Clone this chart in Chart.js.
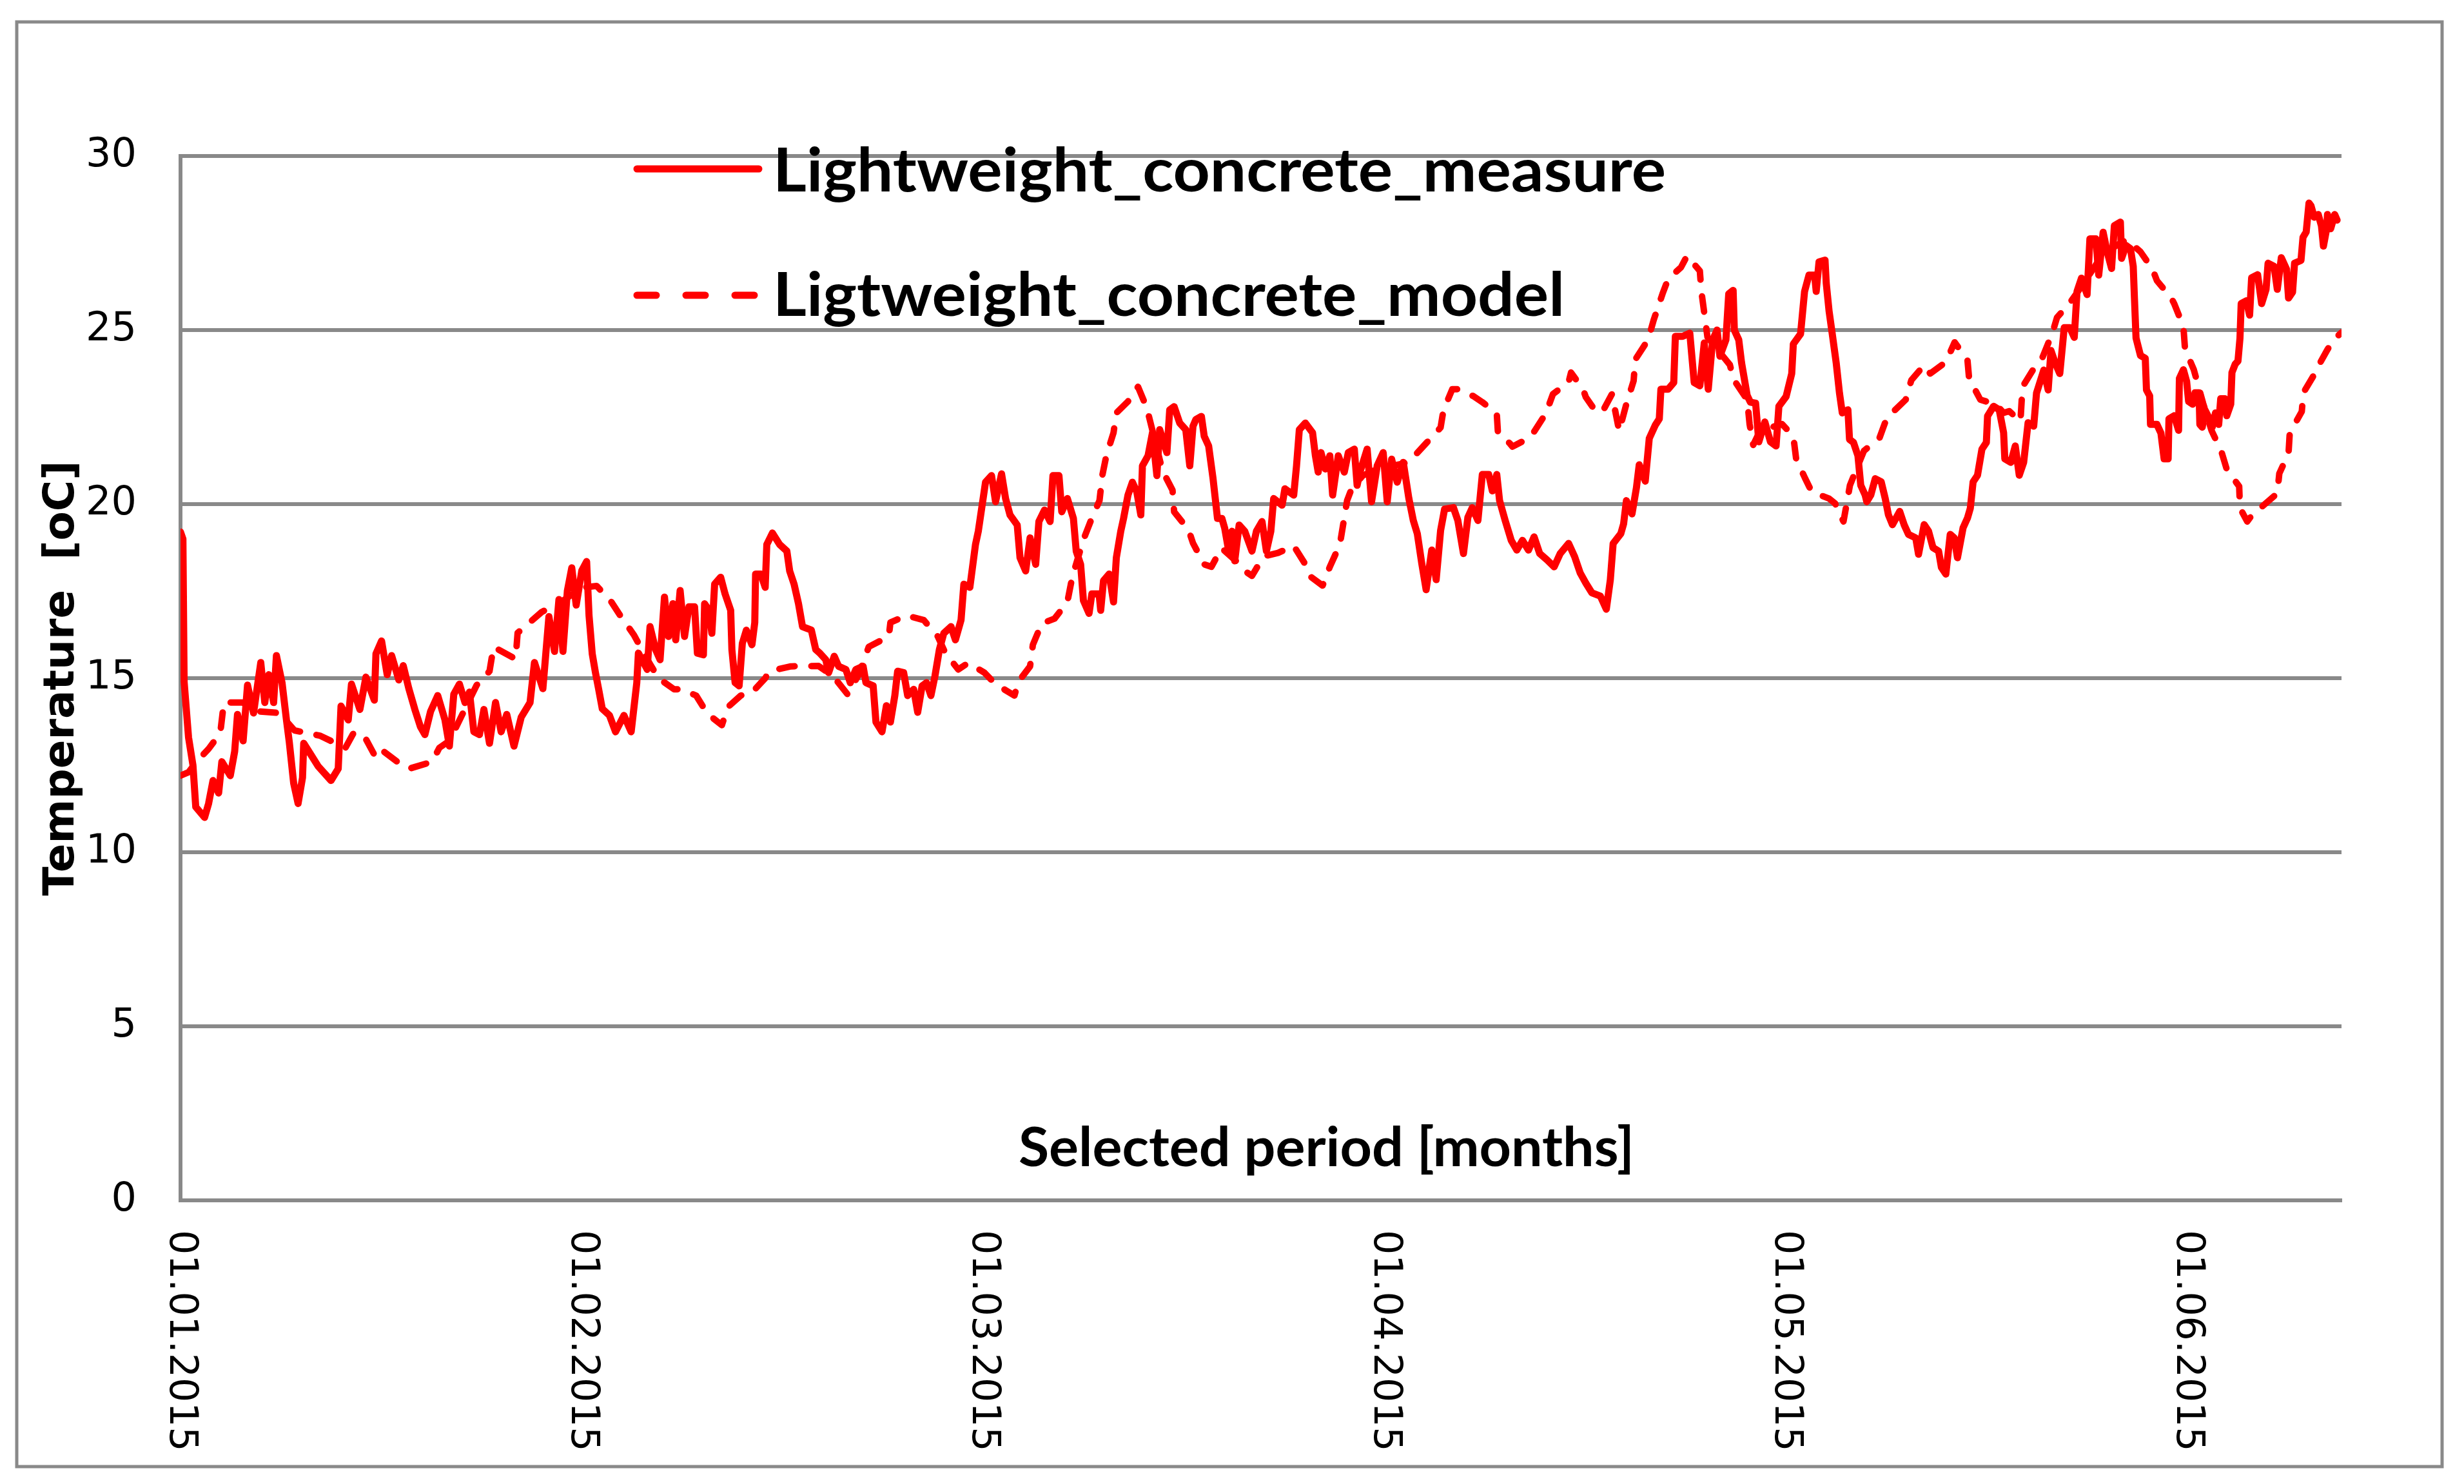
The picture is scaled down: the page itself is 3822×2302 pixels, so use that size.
<!DOCTYPE html>
<html>
<head>
<meta charset="utf-8">
<title>Lightweight concrete temperature</title>
<script src="https://cdn.jsdelivr.net/npm/chart.js@4.4.0/dist/chart.umd.min.js"></script>
<style>
  html, body { margin: 0; padding: 0; background: #fff; }
  canvas { display: block; }
</style>
</head>
<body>
<canvas id="tempChart" width="3822" height="2302" style="width:3822px;height:2302px"></canvas>
<script>
// --- Axis labels (x is measured in months from 01.01.2015) ---
const monthTicks = [0, 1, 2, 3, 4, 5];
const monthLabels = ["01.01.2015", "01.02.2015", "01.03.2015", "01.04.2015", "01.05.2015", "01.06.2015"];
const periodEnd = 5.385;

// --- Lightweight_concrete_measure ---
const measX = [
  0.000, 0.006, 0.009, 0.020, 0.031, 0.038, 0.060, 0.070, 0.081, 0.095, 0.103, 0.124, 0.135, 0.142, 0.156, 0.167,
  0.182, 0.200, 0.210, 0.220, 0.232, 0.239, 0.253, 0.264, 0.271, 0.282, 0.293, 0.304, 0.307, 0.325, 0.343, 0.375,
  0.393, 0.400, 0.418, 0.426, 0.447, 0.462, 0.483, 0.487, 0.501, 0.515, 0.526, 0.544, 0.555, 0.569, 0.584, 0.598,
  0.609, 0.623, 0.641, 0.659, 0.670, 0.681, 0.695, 0.709, 0.720, 0.731, 0.745, 0.756, 0.770, 0.785, 0.799, 0.813,
  0.831, 0.849, 0.871, 0.882, 0.903, 0.918, 0.932, 0.943, 0.953, 0.964, 0.975, 0.986, 1.000, 1.012, 1.018, 1.026,
  1.034, 1.042, 1.051, 1.069, 1.084, 1.105, 1.123, 1.137, 1.141, 1.163, 1.170, 1.184, 1.195, 1.206, 1.216, 1.227,
  1.234, 1.245, 1.256, 1.267, 1.281, 1.288, 1.303, 1.306, 1.317, 1.324, 1.331, 1.346, 1.357, 1.371, 1.374, 1.382,
  1.392, 1.400, 1.410, 1.424, 1.431, 1.433, 1.446, 1.457, 1.461, 1.475, 1.493, 1.511, 1.518, 1.529, 1.540, 1.550,
  1.572, 1.583, 1.593, 1.608, 1.615, 1.629, 1.640, 1.658, 1.669, 1.683, 1.701, 1.708, 1.726, 1.733, 1.748, 1.759,
  1.769, 1.780, 1.787, 1.802, 1.812, 1.827, 1.837, 1.848, 1.859, 1.870, 1.880, 1.891, 1.902, 1.920, 1.931, 1.945,
  1.952, 1.967, 1.981, 1.988, 2.006, 2.021, 2.031, 2.046, 2.056, 2.067, 2.085, 2.092, 2.106, 2.117, 2.131, 2.139,
  2.153, 2.167, 2.174, 2.189, 2.196, 2.210, 2.225, 2.232, 2.243, 2.250, 2.264, 2.271, 2.289, 2.293, 2.300, 2.314,
  2.325, 2.332, 2.343, 2.350, 2.361, 2.372, 2.383, 2.393, 2.397, 2.411, 2.422, 2.433, 2.440, 2.458, 2.465, 2.476,
  2.490, 2.505, 2.515, 2.523, 2.530, 2.544, 2.551, 2.562, 2.573, 2.584, 2.595, 2.602, 2.612, 2.620, 2.627, 2.638,
  2.652, 2.670, 2.681, 2.695, 2.706, 2.717, 2.724, 2.745, 2.752, 2.774, 2.781, 2.788, 2.803, 2.821, 2.828, 2.835,
  2.842, 2.853, 2.864, 2.871, 2.885, 2.900, 2.910, 2.925, 2.932, 2.939, 2.957, 2.968, 2.982, 2.997, 3.007, 3.018,
  3.032, 3.047, 3.061, 3.072, 3.082, 3.093, 3.104, 3.118, 3.129, 3.140, 3.150, 3.172, 3.183, 3.197, 3.208, 3.219,
  3.233, 3.244, 3.260, 3.269, 3.280, 3.287, 3.301, 3.316, 3.330, 3.344, 3.359, 3.373, 3.387, 3.405, 3.423, 3.438,
  3.459, 3.474, 3.488, 3.502, 3.517, 3.538, 3.553, 3.563, 3.570, 3.589, 3.596, 3.603, 3.617, 3.628, 3.635, 3.650,
  3.660, 3.675, 3.685, 3.689, 3.707, 3.721, 3.725, 3.743, 3.761, 3.772, 3.786, 3.797, 3.807, 3.818, 3.829, 3.836,
  3.851, 3.858, 3.869, 3.872, 3.883, 3.890, 3.904, 3.912, 3.925, 3.933, 3.948, 3.962, 3.976, 3.983, 4.001, 4.015,
  4.019, 4.037, 4.047, 4.058, 4.072, 4.076, 4.083, 4.098, 4.101, 4.108, 4.116, 4.126, 4.134, 4.141, 4.155, 4.159,
  4.169, 4.180, 4.187, 4.198, 4.202, 4.212, 4.223, 4.238, 4.248, 4.256, 4.266, 4.284, 4.295, 4.306, 4.324, 4.331,
  4.345, 4.356, 4.367, 4.381, 4.388, 4.399, 4.410, 4.420, 4.428, 4.442, 4.453, 4.460, 4.467, 4.478, 4.489, 4.500,
  4.503, 4.518, 4.532, 4.543, 4.546, 4.561, 4.572, 4.582, 4.593, 4.604, 4.618, 4.625, 4.643, 4.654, 4.661, 4.672,
  4.683, 4.694, 4.708, 4.719, 4.726, 4.737, 4.751, 4.758, 4.773, 4.780, 4.791, 4.801, 4.812, 4.819, 4.834, 4.837,
  4.848, 4.859, 4.866, 4.869, 4.873, 4.884, 4.896, 4.899, 4.907, 4.909, 4.925, 4.935, 4.943, 4.953, 4.955, 4.968,
  4.979, 4.981, 4.991, 4.999, 5.004, 5.014, 5.020, 5.030, 5.032, 5.038, 5.045, 5.056, 5.063, 5.071, 5.079, 5.084,
  5.094, 5.099, 5.109, 5.112, 5.120, 5.127, 5.132, 5.135, 5.148, 5.156, 5.161, 5.176, 5.186, 5.197, 5.202, 5.217,
  5.225, 5.235, 5.248, 5.253, 5.263, 5.268, 5.284, 5.289, 5.297, 5.304, 5.309, 5.317, 5.327, 5.335, 5.340, 5.348,
  5.350, 5.358, 5.368, 5.374
];
const measY = [
  19.2, 19.0, 14.9, 13.3, 12.5, 11.3, 11.0, 11.4, 12.06, 11.7, 12.6, 12.2, 12.9, 13.96, 13.2, 14.8,
  14.0, 15.45, 14.3, 15.1, 14.3, 15.65, 14.87, 13.8, 13.17, 11.98, 11.4, 12.14, 13.13, 12.8, 12.47, 12.06,
  12.4, 14.2, 13.8, 14.83, 14.1, 15.03, 14.37, 15.7, 16.07, 15.1, 15.65, 14.95, 15.36, 14.7, 14.1, 13.6,
  13.38, 14.04, 14.5, 13.8, 13.05, 14.54, 14.83, 14.3, 14.6, 13.46, 13.38, 14.1, 13.13, 14.3, 13.46, 13.96,
  13.05, 13.88, 14.3, 15.45, 14.7, 16.77, 15.77, 17.26, 15.77, 17.51, 18.17, 17.1, 18.09, 18.35, 16.8, 15.7,
  15.16, 14.68, 14.12, 13.93, 13.46, 13.93, 13.46, 14.87, 15.72, 15.25, 16.48, 15.82, 15.53, 17.33, 16.2, 17.14,
  16.1, 17.52, 16.2, 17.05, 17.05, 15.72, 15.67, 17.14, 16.95, 16.29, 17.7, 17.9, 17.42, 16.95, 15.82, 14.87,
  14.78, 16.0, 16.38, 15.96, 16.6, 17.99, 17.99, 17.61, 18.84, 19.17, 18.84, 18.65, 18.08, 17.7, 17.14, 16.48,
  16.38, 15.82, 15.72, 15.53, 15.16, 15.63, 15.34, 15.25, 14.87, 15.25, 15.34, 14.87, 14.78, 13.74, 13.46, 14.21,
  13.74, 14.5, 15.2, 15.16, 14.5, 14.68, 14.02, 14.78, 14.87, 14.5, 15.06, 15.82, 16.29, 16.48, 16.1, 16.67,
  17.7, 17.61, 18.84, 19.22, 20.63, 20.82, 20.07, 20.87, 20.16, 19.69, 19.4, 18.46, 18.08, 19.03, 18.27, 19.5,
  19.83, 19.5, 20.82, 20.82, 19.78, 20.16, 19.59, 18.65, 18.27, 17.23, 16.86, 17.42, 17.42, 16.95, 17.8, 17.99,
  17.19, 18.46, 19.22, 19.59, 20.26, 20.63, 20.35, 19.69, 21.1, 21.39, 22.05, 20.82, 22.14, 21.48, 22.71, 22.8,
  22.33, 22.14, 21.1, 22.24, 22.43, 22.52, 21.95, 21.67, 20.73, 19.59, 19.59, 19.31, 18.65, 19.22, 18.37, 19.4,
  19.22, 18.65, 19.22, 19.5, 18.65, 19.22, 20.16, 19.97, 20.44, 20.26, 21.1, 22.14, 22.33, 22.05, 21.39, 20.92,
  21.48, 21.01, 21.39, 20.26, 21.39, 20.92, 21.48, 21.58, 20.54, 20.92, 21.58, 20.07, 21.1, 21.48, 20.07, 21.29,
  20.63, 21.2, 20.16, 19.53, 19.15, 18.3, 17.54, 18.68, 17.83, 19.24, 19.86, 19.9, 19.53, 18.58, 19.62, 19.9,
  19.53, 20.85, 20.85, 20.38, 20.85, 20.1, 19.53, 18.96, 18.68, 18.96, 18.68, 19.06, 18.58, 18.4, 18.2, 18.58,
  18.87, 18.49, 18.02, 17.73, 17.45, 17.36, 16.98, 17.83, 18.87, 19.15, 19.43, 20.1, 19.72, 20.47, 21.13, 20.66,
  21.89, 22.27, 22.45, 23.3, 23.3, 23.49, 24.82, 24.82, 24.91, 23.49, 23.4, 24.63, 23.3, 24.72, 25.0, 24.25,
  24.72, 26.04, 26.14, 25.0, 24.72, 24.06, 23.12, 22.93, 22.9, 21.79, 22.36, 21.79, 21.67, 22.81, 23.09, 23.75,
  24.6, 24.89, 26.11, 26.58, 26.58, 26.11, 26.96, 27.01, 26.35, 25.55, 24.89, 24.04, 23.19, 22.62, 22.71, 21.86,
  21.77, 21.39, 20.54, 20.26, 20.07, 20.26, 20.73, 20.64, 20.16, 19.69, 19.41, 19.79, 19.41, 19.13, 19.03, 18.56,
  19.41, 19.22, 18.75, 18.65, 18.18, 17.99, 19.13, 19.03, 18.46, 19.32, 19.6, 19.88, 20.64, 20.83, 21.58, 21.77,
  22.53, 22.81, 22.71, 22.05, 21.3, 21.2, 21.67, 20.83, 21.2, 22.34, 22.24, 23.19, 23.85, 23.28, 24.41, 24.04,
  23.75, 25.07, 25.07, 24.79, 26.11, 26.49, 26.02, 27.62, 27.62, 26.58, 27.81, 27.25, 26.77, 28.0, 28.1, 27.06,
  27.43, 27.34, 26.83, 25.92, 24.77, 24.27, 24.19, 23.28, 23.11, 22.29, 22.29, 22.04, 21.3, 21.3, 22.45, 22.54,
  22.12, 23.61, 23.86, 23.53, 22.95, 22.87, 23.2, 23.2, 22.29, 22.21, 22.7, 22.45, 22.21, 22.62, 22.29, 23.03,
  23.03, 22.54, 22.87, 23.78, 24.02, 24.11, 24.77, 25.76, 25.84, 25.43, 26.5, 26.59, 25.76, 26.17, 26.92, 26.83,
  26.17, 27.08, 26.75, 25.92, 26.09, 26.92, 27.0, 27.66, 27.82, 28.65, 28.57, 28.24, 28.32, 27.99, 27.41, 27.91,
  28.32, 27.91, 28.32, 28.16
];

// --- Ligtweight_concrete_model ---
const modelX = [
  0.000, 0.020, 0.040, 0.070, 0.099, 0.108, 0.155, 0.190, 0.246, 0.284, 0.347, 0.411, 0.430, 0.455, 0.483, 0.494,
  0.540, 0.570, 0.627, 0.645, 0.670, 0.738, 0.770, 0.780, 0.835, 0.840, 0.870, 0.900, 0.950, 1.000, 1.037, 1.073,
  1.098, 1.130, 1.160, 1.191, 1.230, 1.249, 1.285, 1.313, 1.349, 1.364, 1.396, 1.425, 1.457, 1.467, 1.521, 1.590,
  1.626, 1.662, 1.690, 1.715, 1.765, 1.769, 1.809, 1.852, 1.887, 1.906, 1.938, 1.963, 2.003, 2.031, 2.078, 2.088,
  2.117, 2.124, 2.146, 2.178, 2.210, 2.222, 2.250, 2.271, 2.290, 2.297, 2.307, 2.325, 2.332, 2.361, 2.386, 2.408,
  2.447, 2.472, 2.476, 2.512, 2.523, 2.551, 2.569, 2.594, 2.630, 2.652, 2.670, 2.699, 2.735, 2.774, 2.803, 2.813,
  2.846, 2.864, 2.889, 2.907, 2.918, 2.946, 2.980, 3.020, 3.060, 3.104, 3.140, 3.147, 3.169, 3.183, 3.222, 3.244,
  3.280, 3.283, 3.312, 3.319, 3.359, 3.373, 3.402, 3.420, 3.459, 3.465, 3.495, 3.502, 3.528, 3.545, 3.567, 3.585,
  3.603, 3.621, 3.625, 3.657, 3.671, 3.693, 3.707, 3.739, 3.754, 3.786, 3.790, 3.805, 3.833, 3.861, 3.869, 3.904,
  3.910, 3.919, 3.940, 3.962, 3.991, 4.019, 4.026, 4.048, 4.065, 4.108, 4.123, 4.144, 4.160, 4.180, 4.195, 4.234,
  4.252, 4.299, 4.313, 4.345, 4.360, 4.399, 4.421, 4.453, 4.457, 4.485, 4.525, 4.543, 4.557, 4.585, 4.590, 4.618,
  4.640, 4.665, 4.676, 4.708, 4.740, 4.780, 4.820, 4.850, 4.884, 4.914, 4.925, 4.961, 4.968, 4.991, 4.995, 5.017,
  5.040, 5.061, 5.086, 5.099, 5.130, 5.132, 5.150, 5.166, 5.184, 5.225, 5.230, 5.253, 5.256, 5.286, 5.290, 5.320,
  5.322, 5.350, 5.366, 5.385
];
const modelY = [
  12.2, 12.3, 12.6, 12.97, 13.42, 14.3, 14.3, 14.05, 14.0, 13.5, 13.35, 13.0, 13.4, 13.4, 12.8, 13.0,
  12.6, 12.4, 12.6, 13.0, 13.2, 14.8, 15.2, 15.9, 15.55, 16.3, 16.6, 16.9, 17.2, 17.6, 17.65, 17.2,
  16.76, 16.24, 15.6, 15.0, 14.68, 14.68, 14.5, 13.98, 13.65, 14.17, 14.5, 14.6, 15.0, 15.2, 15.34, 15.35,
  15.06, 14.54, 15.1, 15.9, 16.2, 16.6, 16.8, 16.67, 16.2, 15.72, 15.25, 15.44, 15.16, 14.83, 14.5, 14.9,
  15.34, 15.96, 16.57, 16.71, 17.19, 17.9, 18.98, 19.6, 20.1, 20.82, 21.39, 22.05, 22.62, 22.95, 23.37, 22.76,
  20.96, 20.4, 19.78, 19.26, 18.88, 18.27, 18.2, 18.74, 18.37, 18.08, 17.94, 18.5, 18.6, 18.8, 18.27, 17.94,
  17.66, 18.2, 18.84, 20.1, 20.44, 20.82, 21.0, 21.1, 21.2, 21.75, 22.2, 22.69, 23.3, 23.3, 23.1, 22.93,
  22.6, 22.03, 21.75, 21.65, 21.89, 22.08, 22.6, 23.16, 23.5, 23.78, 23.3, 23.07, 22.64, 22.69, 23.16, 22.1,
  22.88, 23.54, 24.15, 24.72, 25.29, 26.04, 26.47, 26.8, 27.13, 26.7, 26.1, 24.8, 24.4, 24.0, 23.6, 23.0,
  22.3, 21.7, 22.2, 22.2, 22.3, 21.95, 21.3, 20.75, 20.35, 20.16, 20.02, 19.5, 20.54, 21.11, 21.53, 21.91,
  22.48, 23.0, 23.56, 23.99, 23.75, 24.08, 24.65, 24.13, 23.61, 23.0, 22.86, 22.62, 22.67, 22.38, 23.37, 23.89,
  24.22, 24.93, 25.36, 25.78, 26.3, 27.0, 27.4, 27.6, 27.25, 26.75, 26.42, 25.92, 25.76, 25.1, 24.46, 23.86,
  22.9, 22.12, 21.5, 21.0, 20.51, 19.89, 19.5, 19.75, 19.9, 20.31, 20.88, 21.46, 22.04, 22.66, 23.2, 23.78,
  23.86, 24.44, 24.73, 24.93
];

const seriesNames = ["Lightweight_concrete_measure", "Ligtweight_concrete_model"];

// --- Colours / styles ---
const RED = "#FF0000";
const GRID = "#898989";

function toPoints(xs, ys) {
  return xs.map((x, i) => ({ x: x, y: ys[i] }));
}

// draw text squeezed/stretched to a given width (narrow Calibri-like look)
function fitText(ctx, text, x, y, width) {
  const w = ctx.measureText(text).width;
  ctx.save();
  ctx.translate(x, y);
  ctx.scale(width / w, 1);
  ctx.textAlign = "left";
  ctx.fillText(text, 0, 0);
  ctx.restore();
}

// --- Extra drawing: frame, rotated month labels, axis title, legend ---
const decorations = {
  id: "decorations",
  beforeDraw(chart) {
    const ctx = chart.ctx;
    ctx.save();
    ctx.fillStyle = "#fff";
    ctx.fillRect(0, 0, chart.width, chart.height);
    ctx.restore();
  },
  afterDraw(chart) {
    const ctx = chart.ctx;
    const xScale = chart.scales.x;

    ctx.save();
    // outer chart frame
    ctx.strokeStyle = GRID;
    ctx.lineWidth = 5;
    ctx.strokeRect(26, 34, 3762, 2241);

    // month labels, reading top to bottom
    ctx.fillStyle = "#000";
    ctx.font = '60px "DejaVu Sans"';
    monthTicks.forEach((m, i) => {
      const px = xScale.getPixelForValue(m);
      ctx.save();
      ctx.translate(px, 1908);
      ctx.rotate(Math.PI / 2);
      ctx.textAlign = "left";
      ctx.textBaseline = "middle";
      ctx.fillText(monthLabels[i], 0, 0);
      ctx.restore();
    });

    // x axis title sits inside the plot area
    ctx.font = "bold 85px Lato";
    ctx.textBaseline = "alphabetic";
    fitText(ctx, "Selected period [months]", 1580, 1809, 955);

    // legend
    ctx.strokeStyle = RED;
    ctx.lineWidth = 11;
    ctx.lineCap = "round";
    ctx.beginPath();
    ctx.moveTo(988, 262);
    ctx.lineTo(1177, 262);
    ctx.stroke();

    ctx.setLineDash([30, 46]);
    ctx.beginPath();
    ctx.moveTo(988, 458);
    ctx.lineTo(1180, 458);
    ctx.stroke();
    ctx.setLineDash([]);

    ctx.font = "bold 93px Lato";
    fitText(ctx, seriesNames[0], 1199, 297, 1385);
    fitText(ctx, seriesNames[1], 1199, 490, 1228);
    ctx.restore();
  }
};

// --- Chart ---
const ctx = document.getElementById("tempChart").getContext("2d");
new Chart(ctx, {
  type: "line",
  data: {
    datasets: [
      {
        label: seriesNames[0],
        data: toPoints(measX, measY),
        borderColor: RED,
        borderWidth: 11,
        pointRadius: 0,
        tension: 0,
        fill: false,
        borderJoinStyle: "round",
        borderCapStyle: "round",
      },
      {
        label: seriesNames[1],
        data: toPoints(modelX, modelY),
        borderColor: RED,
        borderWidth: 10,
        borderDash: [24, 26],
        pointRadius: 0,
        tension: 0,
        fill: false,
        borderJoinStyle: "round",
        borderCapStyle: "round",
      },
    ],
  },
  options: {
    responsive: false,
    animation: false,
    devicePixelRatio: 1,
    layout: { padding: { left: 0, top: 242, right: 190, bottom: 0 } },
    plugins: {
      legend: { display: false },
      tooltip: { enabled: false },
    },
    scales: {
      x: {
        type: "linear",
        min: 0,
        max: periodEnd,
        grid: { display: false, drawTicks: false },
        border: { display: true, color: GRID, width: 6 },
        ticks: { display: false },
        afterFit: (scale) => { scale.height = 440; },
      },
      y: {
        min: 0,
        max: 30,
        ticks: {
          stepSize: 5,
          padding: 68,
          color: "#000",
          font: { family: "DejaVu Sans", size: 62 },
        },
        grid: { color: GRID, lineWidth: 6, drawTicks: false },
        border: { display: true, color: GRID, width: 6 },
        title: {
          display: true,
          text: "Temperature  [oC]",
          color: "#000",
          font: { family: "DejaVu Sans", size: 66, weight: "bold" },
          padding: { top: 57, bottom: 0 },
        },
        afterFit: (scale) => { scale.width = 280; },
      },
    },
  },
  plugins: [decorations],
});
</script>
</body>
</html>
